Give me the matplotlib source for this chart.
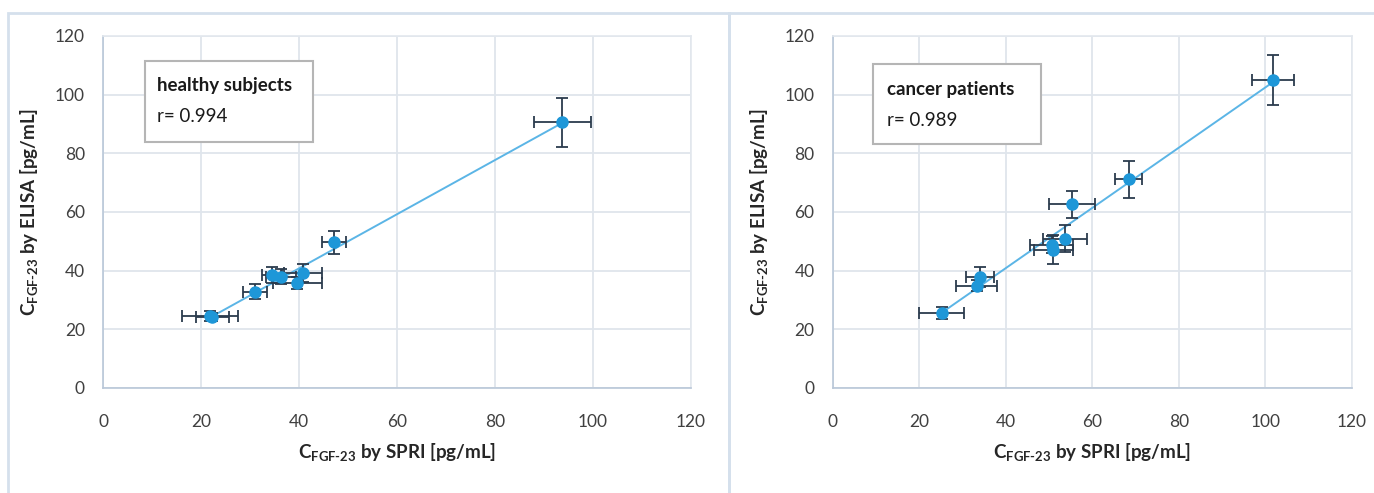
import numpy as np
import matplotlib
matplotlib.use('Agg')
import matplotlib.pyplot as plt
from matplotlib.patches import Rectangle

plt.rcParams['font.family'] = ['Lato', 'DejaVu Sans']
plt.rcParams['mathtext.fontset'] = 'custom'
plt.rcParams['mathtext.rm'] = 'Lato:bold'
plt.rcParams['mathtext.bf'] = 'Lato:bold'

# healthy subjects
healthy_spri = [21.8, 22.3, 31.0, 34.5, 36.3, 39.6, 40.8, 47.1, 93.7]
healthy_elisa = [24.6, 24.2, 32.8, 38.6, 38.0, 35.9, 39.3, 49.6, 90.6]
healthy_xerr = [5.7, 3.4, 2.5, 2.0, 3.0, 5.0, 3.9, 2.5, 5.8]
healthy_yerr = [1.8, 1.5, 2.6, 2.7, 2.5, 2.0, 3.0, 4.0, 8.3]

# cancer patients
cancer_spri = [25.2, 33.3, 34.0, 50.6, 51.0, 53.6, 55.4, 68.4, 101.8]
cancer_elisa = [25.6, 34.9, 37.9, 48.9, 47.2, 50.9, 62.6, 71.1, 105.0]
cancer_xerr = [5.2, 4.7, 3.2, 4.9, 4.5, 5.1, 5.3, 3.1, 4.9]
cancer_yerr = [2.0, 2.0, 3.5, 3.0, 4.8, 4.5, 4.6, 6.2, 8.5]

ticks = [0, 20, 40, 60, 80, 100, 120]

fig = plt.figure(figsize=(13.74, 4.93), dpi=100)

# panel borders
for x0, w in [(8 / 1374, 721 / 1374), (729 / 1374, 660 / 1374)]:
    fig.patches.append(Rectangle((x0, -0.1), w, 1.1 - 13 / 493, transform=fig.transFigure,
                                 fill=False, edgecolor='#d5e0ec', linewidth=2))

panels = [
    ([0.075, 0.213, 0.428, 0.714], healthy_spri, healthy_elisa, healthy_xerr, healthy_yerr,
     'healthy subjects', 'r= 0.994', (0.071, 0.699, 0.286, 0.230), (0.092, 0.858, 0.770)),
    ([0.606, 0.213, 0.378, 0.714], cancer_spri, cancer_elisa, cancer_xerr, cancer_yerr,
     'cancer patients', 'r= 0.989', (0.077, 0.693, 0.324, 0.227), (0.104, 0.849, 0.761)),
]

xlabel = r'$\mathrm{C}_{\mathrm{FGF\text{-}23}}$ by SPRI [pg/mL]'
ylabel = r'$\mathrm{C}_{\mathrm{FGF\text{-}23}}$ by ELISA [pg/mL]'

for rect, xs, ys, xe, ye, title, rtxt, box, tpos in panels:
    ax = fig.add_axes(rect)
    ax.set_xlim(0, 120)
    ax.set_ylim(0, 120)
    ax.set_xticks(ticks)
    ax.set_yticks(ticks)
    ax.grid(True, color='#dfe5ec', linewidth=1.3)
    ax.set_axisbelow(True)
    for s in ax.spines.values():
        s.set_color('#e3e8ee')
        s.set_linewidth(1.2)
    ax.spines['left'].set_color('#b9c7d8')
    ax.spines['bottom'].set_color('#b9c7d8')
    ax.tick_params(length=0, labelsize=12.5, colors='#404040')
    ax.tick_params(axis='y', pad=13)
    ax.tick_params(axis='x', pad=19)

    # linear trend line over data range
    k, b = np.polyfit(xs, ys, 1)
    xl = np.array([min(xs), max(xs)])
    ax.plot(xl, k * xl + b, color='#5bb5e6', linewidth=1.4, zorder=2)

    ax.errorbar(xs, ys, xerr=xe, yerr=ye, fmt='o', color='#1e97d8', markersize=8,
                ecolor='#2b3b4d', elinewidth=1.3, capsize=4.5, capthick=1.3, zorder=3)

    ax.set_xlabel(xlabel, fontsize=13.5, fontweight='bold', color='#262626', labelpad=8)
    ax.set_ylabel(ylabel, fontsize=13.5, fontweight='bold', color='#262626', labelpad=10)

    ax.add_patch(Rectangle((box[0], box[1]), box[2], box[3], transform=ax.transAxes,
                           facecolor='white', edgecolor='#b5b5b5', linewidth=1.5, zorder=5))
    ax.text(tpos[0], tpos[1], title, transform=ax.transAxes, fontsize=13.5,
            fontweight='bold', color='#1a1a1a', va='center', zorder=6)
    ax.text(tpos[0], tpos[2], rtxt, transform=ax.transAxes, fontsize=13.5,
            color='#1a1a1a', va='center', zorder=6)

fig.savefig('out.png', dpi=100)
